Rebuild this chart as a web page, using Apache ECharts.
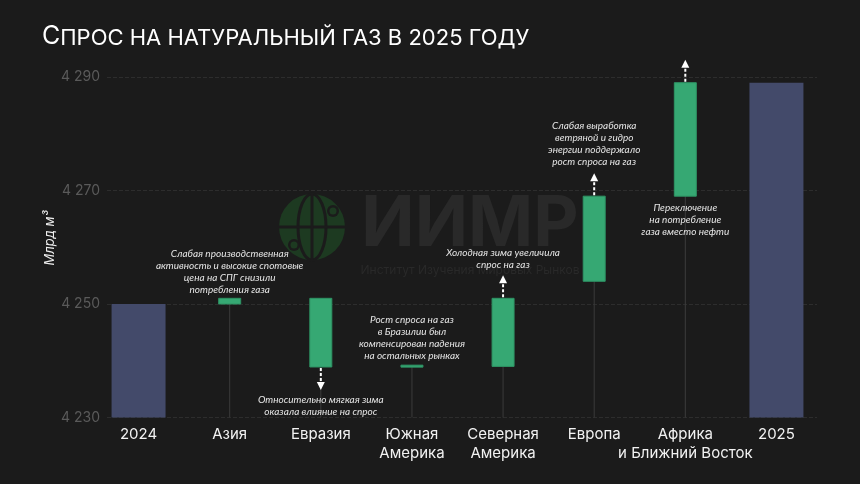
<!DOCTYPE html>
<html>
<head>
<meta charset="utf-8">
<script src="https://cdn.jsdelivr.net/npm/echarts@6/dist/echarts.min.js"></script>
<style>
html,body{margin:0;padding:0;background:#1b1b1b;}
#chart{width:860px;height:484px;}
</style>
</head>
<body>
<div id="chart"></div>
<script>
// ---- data ----
const categories = ['2024', 'Азия', 'Евразия', 'Южная\nАмерика', 'Северная\nАмерика', 'Европа', 'Африка\nи Ближний Восток', '2025'];
const totalValues = [4250, null, null, null, null, null, null, 4289];
const changeFrom = [null, 4250, 4251, 4238.9, 4239, 4254, 4269, null];
const changeTo   = [null, 4251, 4238.9, 4239.2, 4251, 4269, 4289, null];
const yMin = 4230, yMax = 4290, yStep = 20;
const notes = [
  '',
  'Слабая производственная\nактивность и высокие спотовые\nцена на СПГ снизили\nпотребления газа',
  'Относительно мягкая зима\nоказала влияние на спрос',
  'Рост спроса на газ\nв Бразилии был\nкомпенсирован падения\nна остальных рынках',
  'Холодная зима увеличила\nспрос на газ',
  'Слабая выработка\nветряной и гидро\nэнергии поддержало\nрост спроса на газ',
  'Переключение\nна потребление\nгаза вместо нефти',
  ''
];
const noteSide = ['', 'above', 'below', 'above', 'above', 'above', 'below', ''];
const arrowDir = ['', '', 'down', '', 'up', 'up', 'up', ''];
const titleText = 'Спрос на натуральный газ в 2025 году';
const yAxisTitle = 'Млрд м³';

// ---- chart ----
const chart = echarts.init(document.getElementById('chart'));
const GREEN = '#36a873', BLUE = '#434a6a';

const changeData = [];
for (let i = 0; i < categories.length; i++) {
  if (changeFrom[i] != null) changeData.push([i, changeFrom[i], changeTo[i]]);
}

function renderItem(params, api) {
  const i = api.value(0), a = api.value(1), b = api.value(2);
  const hi = Math.max(a, b), lo = Math.min(a, b);
  const pTop = api.coord([i, hi]), pBot = api.coord([i, lo]), pBase = api.coord([i, yMin]);
  const x = pTop[0], w = 22;
  let top = pTop[1], bot = pBot[1];
  if (bot - top < 2) { const m = (top + bot) / 2; top = m - 1; bot = m + 1; }
  const ch = [];
  ch.push({type: 'line', z2: 1, shape: {x1: x, y1: bot, x2: x, y2: pBase[1]}, style: {stroke: '#3b3b3b', lineWidth: 1}});
  ch.push({type: 'rect', z2: 2, shape: {x: x - w / 2, y: top, width: w, height: bot - top}, style: {fill: GREEN, stroke: '#2e9364', lineWidth: 1}});
  const dir = arrowDir[i];
  const L = 23;
  let tip = null;
  if (dir === 'up') {
    tip = top - L;
    ch.push({type: 'line', z2: 3, shape: {x1: x, y1: top - 1, x2: x, y2: tip + 7}, style: {stroke: '#ffffff', lineWidth: 2, lineDash: [3, 2]}});
    ch.push({type: 'polygon', z2: 3, shape: {points: [[x, tip], [x - 4, tip + 8], [x + 4, tip + 8]]}, style: {fill: '#ffffff'}});
  } else if (dir === 'down') {
    tip = bot + L;
    ch.push({type: 'line', z2: 3, shape: {x1: x, y1: bot + 1, x2: x, y2: tip - 7}, style: {stroke: '#ffffff', lineWidth: 2, lineDash: [3, 2]}});
    ch.push({type: 'polygon', z2: 3, shape: {points: [[x, tip], [x - 4, tip - 8], [x + 4, tip - 8]]}, style: {fill: '#ffffff'}});
  }
  const side = noteSide[i];
  if (notes[i]) {
    let ty, va;
    if (side === 'above') {
      ty = (dir === 'up') ? tip - 5 : top - 3; va = 'bottom';
    } else {
      ty = (dir === 'down') ? tip + 4 : bot + 6; va = 'top';
    }
    ch.push({type: 'text', z2: 4, style: {
      text: notes[i], x: x, y: ty, align: 'center', verticalAlign: va,
      textAlign: 'center', textVerticalAlign: va,
      fontFamily: 'Lato', fontStyle: 'italic', fontSize: 10, lineHeight: 12, fill: '#e4e4e4'
    }});
  }
  return {type: 'group', children: ch};
}

const fmt = v => { const s = String(Math.round(v)); return s.slice(0, s.length - 3) + ' ' + s.slice(s.length - 3); };

const option = {
  backgroundColor: '#1b1b1b',
  animation: false,
  grid: [
    {left: 107, right: 43, top: 77, bottom: 66.5},
    {left: 93, right: 38, top: 77, bottom: 66.5}
  ],
  xAxis: [
    {gridIndex: 0, type: 'category', data: categories, show: false},
    {gridIndex: 1, type: 'category', data: categories,
      axisLine: {show: false}, axisTick: {show: false}, splitLine: {show: false},
      axisLabel: {color: '#f2f2f2', fontFamily: 'Inter', fontSize: 15, lineHeight: 19, margin: 7, interval: 0}}
  ],
  yAxis: [
    {gridIndex: 0, type: 'value', min: yMin, max: yMax, interval: yStep,
      axisLine: {show: false}, axisTick: {show: false},
      axisLabel: {color: '#5a5a5a', fontFamily: 'Inter', fontSize: 14, margin: 7, formatter: fmt},
      splitLine: {show: true, lineStyle: {color: '#2d2d2d', type: [4, 2], width: 1}}},
    {gridIndex: 1, type: 'value', min: yMin, max: yMax, interval: yStep, show: false, splitLine: {show: false}}
  ],
  graphic: [
    {type: 'text', left: 42, top: 24, z: 10, style: {
      text: '{a|' + titleText.slice(0, 1).toUpperCase() + '}{b|' + titleText.slice(1).toUpperCase() + '}',
      rich: {
        a: {fontFamily: 'Inter', fontSize: 25, fill: '#ffffff', verticalAlign: 'bottom'},
        b: {fontFamily: 'Inter', fontSize: 22, fill: '#ffffff', verticalAlign: 'bottom'}
      }
    }},
    {type: 'text', x: 50, y: 238, rotation: Math.PI / 2, z: 10, style: {
      text: yAxisTitle, align: 'center', verticalAlign: 'middle', textAlign: 'center', textVerticalAlign: 'middle',
      fontFamily: 'Inter', fontStyle: 'italic', fontSize: 13, fill: '#eeeeee'
    }},
    // watermark
    {type: 'group', z: -1, children: [
      {type: 'circle', shape: {cx: 312, cy: 227, r: 33}, style: {fill: '#1d3a21'}},
      {type: 'ellipse', shape: {cx: 312, cy: 227, rx: 14, ry: 33}, style: {fill: 'none', stroke: '#1b1b1b', lineWidth: 3}},
      {type: 'line', shape: {x1: 279, y1: 227, x2: 345, y2: 227}, style: {stroke: '#1b1b1b', lineWidth: 3}},
      {type: 'line', shape: {x1: 312, y1: 194, x2: 312, y2: 260}, style: {stroke: '#1b1b1b', lineWidth: 3}},
      {type: 'circle', shape: {cx: 333, cy: 211, r: 6}, style: {fill: '#1b1b1b'}},
      {type: 'circle', shape: {cx: 333, cy: 211, r: 3.5}, style: {fill: '#1d3a21'}},
      {type: 'circle', shape: {cx: 294, cy: 245, r: 6}, style: {fill: '#1b1b1b'}},
      {type: 'circle', shape: {cx: 294, cy: 245, r: 3.5}, style: {fill: '#1d3a21'}},
      {type: 'text', style: {x: 470, y: 225, text: 'ИИМР', align: 'center', verticalAlign: 'middle', textAlign: 'center', textVerticalAlign: 'middle',
        fontFamily: 'Inter', fontWeight: 'bold', fontSize: 70, fill: '#292929'}},
      {type: 'text', style: {x: 470, y: 270, text: 'Институт Изучения Мировых Рынков', align: 'center', verticalAlign: 'middle', textAlign: 'center', textVerticalAlign: 'middle',
        fontFamily: 'Inter', fontSize: 12, fill: '#292929'}}
    ]}
  ],
  series: [
    {type: 'bar', xAxisIndex: 1, yAxisIndex: 1, data: totalValues, barWidth: 54,
      itemStyle: {color: BLUE}, z: 2},
    {type: 'custom', xAxisIndex: 1, yAxisIndex: 1, data: changeData, renderItem: renderItem,
      encode: {x: 0, y: [1, 2]}, clip: false, z: 3}
  ]
};
chart.setOption(option);
</script>
</body>
</html>
